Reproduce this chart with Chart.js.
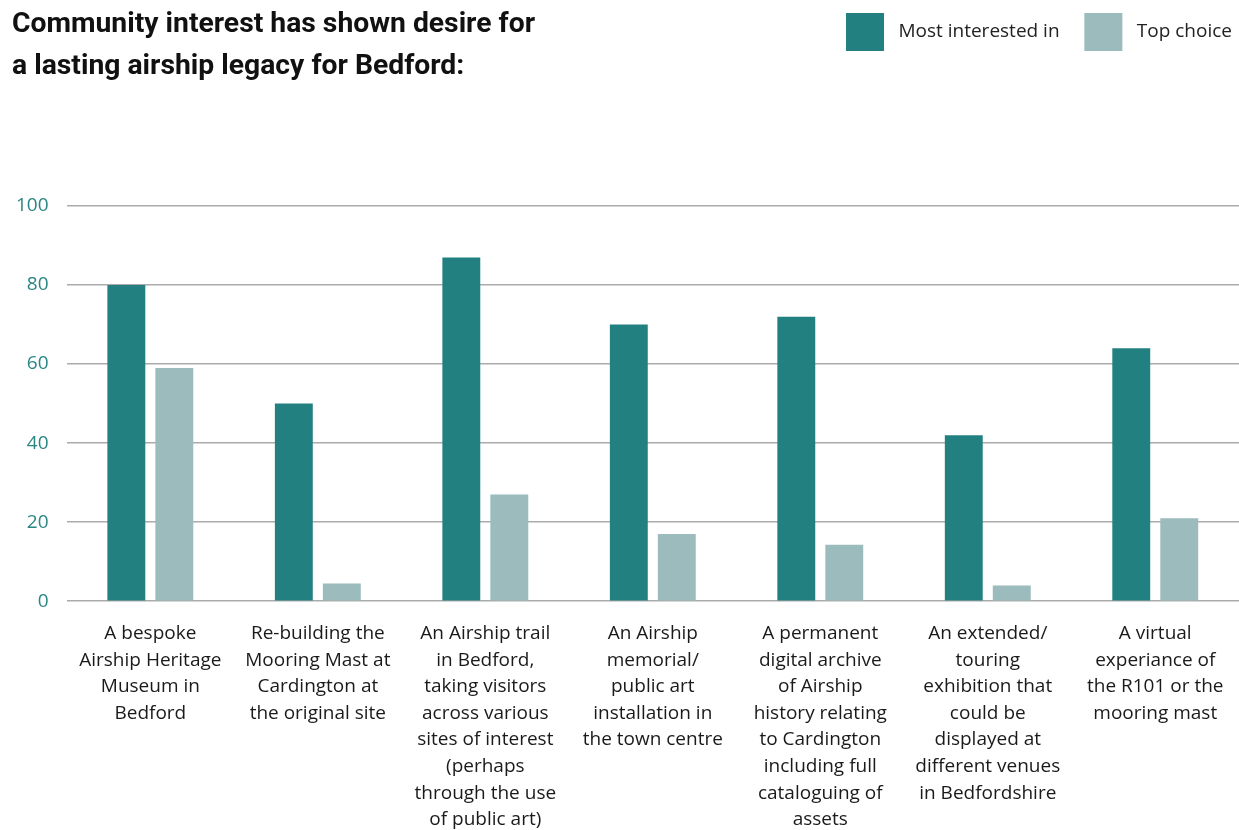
<!DOCTYPE html>
<html>
<head>
<meta charset="utf-8">
<script src="https://cdn.jsdelivr.net/npm/chart.js@4"></script>
<style>
  html,body{margin:0;padding:0;background:#fff;}
  #wrap{position:relative;width:1239px;height:830px;overflow:hidden;}
  #titel{position:absolute;left:12px;top:2px;font-family:Roboto,"Noto Sans",sans-serif;font-weight:700;
    font-size:28.3px;line-height:42px;color:#111;}
  canvas{position:absolute;left:0;top:0;}
</style>
</head>
<body>
<div id="wrap">
  <canvas id="chLegacy" width="1239" height="830"></canvas>
  <div id="titel">Community interest has shown desire for<br>a lasting airship legacy for Bedford:</div>
</div>
<script>
/* ---- data ---- */
const kategori = [
  ['A bespoke','Airship Heritage','Museum in','Bedford'],
  ['Re-building the','Mooring Mast at','Cardington at','the original site'],
  ['An Airship trail','in Bedford,','taking visitors','across various','sites of interest','(perhaps','through the use','of public art)'],
  ['An Airship','memorial/','public art','installation in','the town centre'],
  ['A permanent','digital archive','of Airship','history relating','to Cardington','including full','cataloguing of','assets'],
  ['An extended/','touring','exhibition that','could be','displayed at','different venues','in Bedfordshire'],
  ['A virtual','experiance of','the R101 or the','mooring mast']
];
const palingMinat = [80, 50, 87, 70, 72, 42, 64];
const pilihanUtama = [59, 4.5, 27, 17, 14.3, 4, 21];
const tickY = [0, 20, 40, 60, 80, 100];

const hijauTua = '#238080', hijauMuda = '#9bbbbd';
const fontUtama = '"Open Sans", Roboto, sans-serif';

/* ruang kosong di bawah legenda */
const jarakLegenda = {
  id: 'jarakLegenda',
  beforeInit(chart){
    const fitAsli = chart.legend.fit;
    chart.legend.fit = function(){ fitAsli.bind(chart.legend)(); this.height += 145; };
  }
};

/* label legenda: sedikit jarak ekstra antara kotak, teks dan item berikutnya */
const labelLegenda = chart =>
  Chart.defaults.plugins.legend.labels.generateLabels(chart)
    .map((l, i, arr) => ({...l, text: ' ' + l.text + (i < arr.length - 1 ? '   ' : '')}));

new Chart(document.getElementById('chLegacy'), {
  type: 'bar',
  data: {
    labels: kategori,
    datasets: [
      {label:'Most interested in', data:palingMinat, backgroundColor:hijauTua},
      {label:'Top choice', data:pilihanUtama, backgroundColor:hijauMuda}
    ]
  },
  options: {
    responsive: false,
    animation: false,
    layout: {padding:{top:3, left:-2, right:-3, bottom:-22}},
    datasets: {bar: {categoryPercentage:0.573, barPercentage:0.79}},
    plugins: {
      legend: {position:'top', align:'end',
        labels:{boxWidth:38, boxHeight:38, padding:10, color:'#222',
          font:{family:fontUtama, size:19}, generateLabels:labelLegenda}},
      tooltip: {enabled:false}
    },
    scales: {
      x: {
        // label terakhir tidak perlu ruang ekstra di kanan
        afterFit: s => { s.paddingLeft = 0; s.paddingRight = 0; },
        grid: {display:false, drawTicks:false},
        border: {display:false},
        ticks: {color:'#1a1a1a', padding:19, maxRotation:0, autoSkip:false,
          font:{family:fontUtama, size:19, lineHeight:1.4}}
      },
      y: {
        min: 0, max: 100,
        afterBuildTicks: s => { s.ticks = tickY.map(v => ({value:v})); },
        grid: {color:'#ababab', lineWidth:1.5, drawTicks:false},
        border: {display:false},
        ticks: {color:'#2a8585', padding:18,
          font:{family:fontUtama, size:19}}
      }
    }
  },
  plugins: [jarakLegenda]
});
</script>
</body>
</html>
